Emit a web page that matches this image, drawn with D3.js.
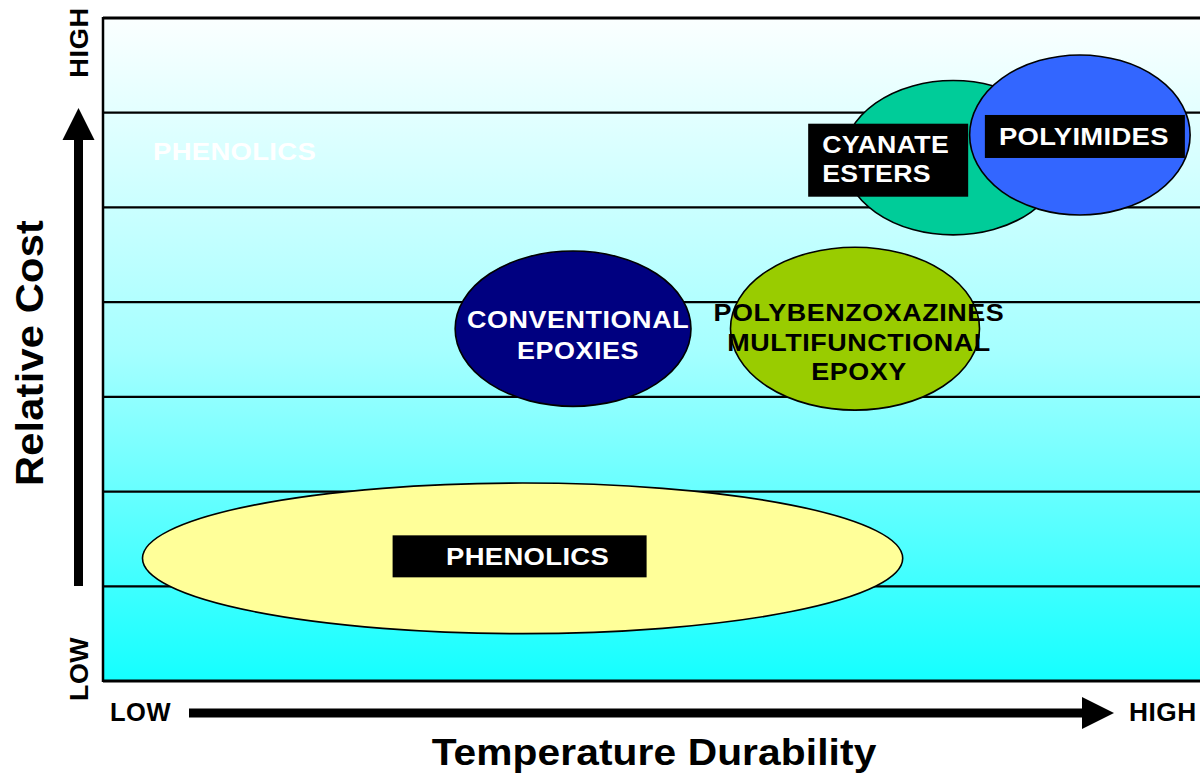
<!DOCTYPE html>
<html>
<head>
<meta charset="utf-8">
<script src="https://cdn.jsdelivr.net/npm/d3@7"></script>
<style>
  html, body { margin: 0; padding: 0; background: #ffffff; }
  svg { display: block; }
  text { font-family: "Liberation Sans", Arial, sans-serif; font-weight: bold; }
</style>
</head>
<body>
<svg id="chart" width="1200" height="777"></svg>
<script>
// Resin families positioned by temperature durability (x, 0-100) and relative cost (y, 0-7 cost bands)
const materials   = ["PHENOLICS", "CONVENTIONAL EPOXIES", "POLYBENZOXAZINES MULTIFUNCTIONAL EPOXY", "CYANATE ESTERS", "POLYIMIDES"];
const tempLow     = [3.6, 32.1, 57.2, 67.5, 79.0];
const tempHigh    = [72.9, 53.6, 79.9, 87.5, 99.1];
const costLow     = [0.50, 2.90, 2.86, 4.71, 4.92];
const costHigh    = [2.09, 4.54, 4.58, 6.34, 6.61];
const labelLines  = [["PHENOLICS"], ["CONVENTIONAL", "EPOXIES"], ["POLYBENZOXAZINES", "MULTIFUNCTIONAL", "EPOXY"], ["CYANATE", "ESTERS"], ["POLYIMIDES"]];
const costBands   = [0, 1, 2, 3, 4, 5, 6, 7];
const axisEnds    = ["LOW", "HIGH"];

// Appearance of each family's bubble and label (labels use a widened bold face)
const fills       = ["#ffff99", "#000080", "#99cc00", "#00cc99", "#3366ff"];
const textColors  = ["#ffffff", "#ffffff", "#000000", "#ffffff", "#ffffff"];
const labelStyle  = [
  { size: 24.5, ls: 0.3, sx: 1.12, dx: 5,    dy: [7],          anchor: "middle", box: { x0: -130, x1: 124, y0: -23, y1: 19 } },
  { size: 23,   ls: 0.5, sx: 1.17, dx: 5,    dy: [-1, 30],     anchor: "middle", box: null },
  { size: 23,   ls: 0.5, sx: 1.17, dx: 4,    dy: [-8, 22, 51], anchor: "middle", box: null },
  { size: 23,   ls: 0.3, sx: 1.16, dx: -131, dy: [-5, 24],     anchor: "start",  box: { x0: -145, x1: 15, y0: -34, y1: 39 } },
  { size: 24.5, ls: 0.3, sx: 1.12, dx: 4,    dy: [10],         anchor: "middle", box: { x0: -95, x1: 105, y0: -20, y1: 23 } }
];

const svg = d3.select("#chart");
const plot = { left: 103, right: 1200, top: 18, bottom: 681 };

const x = d3.scaleLinear().domain([0, 100]).range([plot.left, plot.right]);
const y = d3.scaleLinear().domain([0, 7]).range([plot.bottom, plot.top]);

// Background gradient: pale at high cost, cyan at low cost
const defs = svg.append("defs");
const grad = defs.append("linearGradient")
  .attr("id", "bg").attr("x1", 0).attr("y1", 0).attr("x2", 0).attr("y2", 1);
grad.append("stop").attr("offset", "0%").attr("stop-color", "#fbffff");
grad.append("stop").attr("offset", "50%").attr("stop-color", "#a6ffff");
grad.append("stop").attr("offset", "100%").attr("stop-color", "#14ffff");

svg.append("rect")
  .attr("x", plot.left).attr("y", plot.top)
  .attr("width", plot.right - plot.left + 20).attr("height", plot.bottom - plot.top)
  .attr("fill", "url(#bg)");

// Faint white ghost label in the top band
svg.append("text")
  .attr("transform", "translate(153,160) scale(1.12,1)")
  .attr("font-size", 24.5).attr("letter-spacing", 0.3)
  .attr("fill", "#ffffff")
  .text("PHENOLICS");

// Cost band separators
svg.append("g").selectAll("line")
  .data(costBands)
  .join("line")
  .attr("x1", plot.left).attr("x2", plot.right + 20)
  .attr("y1", d => y(d)).attr("y2", d => y(d))
  .attr("stroke", "#000").attr("stroke-width", 2.2);

// Plot frame
svg.append("line")
  .attr("x1", plot.left).attr("x2", plot.left)
  .attr("y1", plot.top - 1).attr("y2", plot.bottom + 1)
  .attr("stroke", "#000").attr("stroke-width", 2.5);
svg.append("line")
  .attr("x1", plot.left).attr("x2", plot.right + 20)
  .attr("y1", plot.top).attr("y2", plot.top)
  .attr("stroke", "#000").attr("stroke-width", 3);
svg.append("line")
  .attr("x1", plot.left).attr("x2", plot.right + 20)
  .attr("y1", plot.bottom).attr("y2", plot.bottom)
  .attr("stroke", "#000").attr("stroke-width", 3);

// Material bubbles
const data = materials.map((m, i) => ({
  name: m,
  cx: (x(tempLow[i]) + x(tempHigh[i])) / 2,
  cy: (y(costLow[i]) + y(costHigh[i])) / 2,
  rx: (x(tempHigh[i]) - x(tempLow[i])) / 2,
  ry: (y(costLow[i]) - y(costHigh[i])) / 2,
  lines: labelLines[i],
  fill: fills[i],
  color: textColors[i],
  style: labelStyle[i]
}));

const groups = svg.append("g").selectAll("g")
  .data(data)
  .join("g");

groups.append("ellipse")
  .attr("cx", d => d.cx).attr("cy", d => d.cy)
  .attr("rx", d => d.rx).attr("ry", d => d.ry)
  .attr("fill", d => d.fill)
  .attr("stroke", "#000").attr("stroke-width", 1.6);

groups.filter(d => d.style.box)
  .append("rect")
  .attr("x", d => d.cx + d.style.box.x0)
  .attr("y", d => d.cy + d.style.box.y0)
  .attr("width", d => d.style.box.x1 - d.style.box.x0)
  .attr("height", d => d.style.box.y1 - d.style.box.y0)
  .attr("fill", "#000");

groups.each(function(d) {
  const g = d3.select(this);
  d.lines.forEach((line, j) => {
    g.append("text")
      .attr("transform", `translate(${d.cx + d.style.dx},${d.cy + d.style.dy[j]}) scale(${d.style.sx},1)`)
      .attr("text-anchor", d.style.anchor)
      .attr("font-size", d.style.size)
      .attr("letter-spacing", d.style.ls)
      .attr("fill", d.color)
      .text(line);
  });
});

// Axis arrows
const yArrow = { x: 78.5, base: 586, head: 140, tip: 108, half: 16, w: 9 };
svg.append("rect")
  .attr("x", yArrow.x - yArrow.w / 2).attr("y", yArrow.head - 1)
  .attr("width", yArrow.w).attr("height", yArrow.base - yArrow.head + 1)
  .attr("fill", "#000");
svg.append("path")
  .attr("d", `M${yArrow.x - yArrow.half},${yArrow.head} L${yArrow.x + yArrow.half},${yArrow.head} L${yArrow.x},${yArrow.tip} Z`)
  .attr("fill", "#000");

const xArrow = { y: 713, start: 189, head: 1082, tip: 1114, half: 16, w: 9 };
svg.append("rect")
  .attr("x", xArrow.start).attr("y", xArrow.y - xArrow.w / 2)
  .attr("width", xArrow.head - xArrow.start + 1).attr("height", xArrow.w)
  .attr("fill", "#000");
svg.append("path")
  .attr("d", `M${xArrow.head},${xArrow.y - xArrow.half} L${xArrow.head},${xArrow.y + xArrow.half} L${xArrow.tip},${xArrow.y} Z`)
  .attr("fill", "#000");

// End labels
svg.append("text")
  .attr("transform", "translate(88,42.5) rotate(-90) scale(1.05,1)")
  .attr("text-anchor", "middle").attr("font-size", 26).attr("letter-spacing", 0.5)
  .text(axisEnds[1]);
svg.append("text")
  .attr("transform", "translate(88,669) rotate(-90) scale(1.03,1)")
  .attr("text-anchor", "middle").attr("font-size", 26).attr("letter-spacing", 0.5)
  .text(axisEnds[0]);
svg.append("text")
  .attr("transform", "translate(110,721) scale(1.02,1)")
  .attr("font-size", 25).attr("letter-spacing", 0.5)
  .text(axisEnds[0]);
svg.append("text")
  .attr("transform", "translate(1129,721) scale(1.05,1)")
  .attr("font-size", 25).attr("letter-spacing", 0.5)
  .text(axisEnds[1]);

// Axis titles
svg.append("text")
  .attr("transform", "translate(43,353) rotate(-90) scale(1.08,1)")
  .attr("text-anchor", "middle").attr("font-size", 38.5).attr("letter-spacing", 0.2)
  .text("Relative Cost");
svg.append("text")
  .attr("transform", "translate(654,765) scale(1.1,1)")
  .attr("text-anchor", "middle").attr("font-size", 37).attr("letter-spacing", 0.1)
  .text("Temperature Durability");
</script>
</body>
</html>
